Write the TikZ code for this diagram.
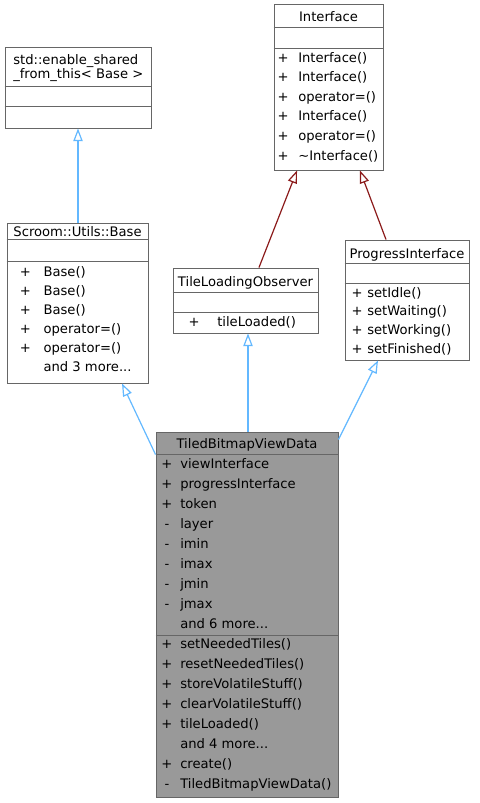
\documentclass[tikz,border=0pt]{standalone}
\usepackage{fontspec}
\setmainfont{DejaVu Sans}
\usepackage{xcolor}
\usetikzlibrary{arrows.meta}

\definecolor{boxgray}{HTML}{666666}
\definecolor{mainfill}{HTML}{999999}
\definecolor{pubedge}{HTML}{63B8FF}
\definecolor{protedge}{HTML}{8B1A1A}

\newcommand{\andmore}[1]{and #1 more.{}.{}.}

\begin{document}
\begin{tikzpicture}[
    x=0.75pt, y=-0.75pt,
    cls/.style={draw=boxgray, fill=white, rectangle, inner sep=0, line width=0.7pt},
    sep/.style={draw=boxgray, line width=0.7pt},
    txt/.style={inner sep=0, font=\fontsize{9.85}{11}\selectfont},
    sym/.style={txt, anchor=base},
    mem/.style={txt, anchor=base west},
    ttl/.style={txt, anchor=base},
    inherit/.style={-{Triangle[open, length=9.5pt, width=7pt]}, line width=0.9pt, draw=pubedge},
    inheritprot/.style={inherit, draw=protedge}
  ]
    \useasboundingbox (0,0) rectangle (479,803);

    % Class boxes
    \node[cls, minimum width=81.75pt, minimum height=124.5pt] (iface) at (328.5,87) {};
    \node[cls, minimum width=109.5pt, minimum height=60.75pt] (shared) at (78,87.5) {};
    \node[cls, minimum width=105.75pt, minimum height=120pt] (base) at (77.5,303) {};
    \node[cls, minimum width=108.75pt, minimum height=48.75pt] (observer) at (245.5,300.5) {};
    \node[cls, minimum width=93pt, minimum height=90pt] (progress) at (407,300) {};
    \node[cls, fill=mainfill, minimum width=136.5pt, minimum height=273.75pt] (tiled) at (247,614.5) {};

    % Compartment lines
    \draw[sep] (iface.west |- 0,27) -- (iface.east |- 0,27);
    \draw[sep] (iface.west |- 0,48) -- (iface.east |- 0,48);
    \draw[sep] (shared.west |- 0,86) -- (shared.east |- 0,86);
    \draw[sep] (shared.west |- 0,106) -- (shared.east |- 0,106);
    \draw[sep] (base.west |- 0,239) -- (base.east |- 0,239);
    \draw[sep] (base.west |- 0,261) -- (base.east |- 0,261);
    \draw[sep] (observer.west |- 0,292) -- (observer.east |- 0,292);
    \draw[sep] (observer.west |- 0,312) -- (observer.east |- 0,312);
    \draw[sep] (progress.west |- 0,263) -- (progress.east |- 0,263);
    \draw[sep] (progress.west |- 0,283) -- (progress.east |- 0,283);
    \draw[sep] (tiled.west |- 0,454) -- (tiled.east |- 0,454);
    \draw[sep] (tiled.west |- 0,635) -- (tiled.east |- 0,635);

    % Titles
    \node[ttl] (iface-t) at (328.5,21.5) {Interface};
    \node[mem] (shared-t1) at (13,64) {std::enable\_shared};
    \node[mem] (shared-t2) at (13,78) {\_from\_this< Base >};
    \node[ttl] (base-t) at (77.5,236) {Scroom::Utils::Base};
    \node[ttl] (observer-t) at (245.5,286) {TileLoadingObserver};
    \node[ttl] (progress-t) at (407,258) {ProgressInterface};
    \node[ttl] (tiled-t) at (247,448) {TiledBitmapViewData};

    % Members
    \foreach \s/\n [count=\i] in {+/Interface(), +/Interface(), +/operator=(), +/Interface(), +/operator=(), +/\textasciitilde Interface()}{
      \node[sym] (iface-s\i) at (283,{62+19.6*(\i-1)}) {\s};
      \node[mem] (iface-m\i) at (298,{62+19.6*(\i-1)}) {\n};
    }
    \foreach \s/\n [count=\i] in {+/Base(), +/Base(), +/Base(), +/operator=(), +/operator=(), /\andmore{3}}{
      \node[sym] (base-s\i) at (25.5,{276+19*(\i-1)}) {\s};
      \node[mem] (base-m\i) at (43.3,{276+19*(\i-1)}) {\n};
    }
    \node[sym] (observer-s1) at (194,326) {+};
    \node[mem] (observer-m1) at (217,326) {tileLoaded()};
    \foreach \s/\n [count=\i] in {+/setIdle(), +/setWaiting(), +/setWorking(), +/setFinished()}{
      \node[sym] (progress-s\i) at (357,{297+18.7*(\i-1)}) {\s};
      \node[mem] (progress-m\i) at (367,{297+18.7*(\i-1)}) {\n};
    }
    \foreach \s/\n [count=\i] in {+/viewInterface, +/progressInterface, +/token, -/layer, -/imin, -/imax, -/jmin, -/jmax, /\andmore{6}}{
      \node[sym] (tiled-a\i) at (167,{468+20*(\i-1)}) {\s};
      \node[mem] (tiled-b\i) at (180,{468+20*(\i-1)}) {\n};
    }
    \foreach \s/\n [count=\i] in {+/setNeededTiles(), +/resetNeededTiles(), +/storeVolatileStuff(), +/clearVolatileStuff(), +/tileLoaded(), /\andmore{4}, +/create(), -/TiledBitmapViewData()}{
      \node[sym] (tiled-s\i) at (167,{648+20*(\i-1)}) {\s};
      \node[mem] (tiled-m\i) at (180,{648+20*(\i-1)}) {\n};
    }

    % Inheritance
    \draw[inherit] (shared.south |- base.north) -- (shared.south);
    \draw[inheritprot] ([xshift=10.1pt]observer.north) -- ([xshift=-23.6pt]iface.south);
    \draw[inheritprot] ([xshift=-15.75pt]progress.north) -- ([xshift=23.6pt]iface.south);
    \draw[inherit] ([yshift=-17.25pt]tiled.north west) -- ([xshift=33.4pt]base.south);
    \draw[inherit] ([xshift=0.75pt]tiled.north) -- ([xshift=0.75pt]tiled.north |- observer.south);
    \draw[inherit] ([yshift=-6pt]tiled.north east) -- ([xshift=-21.75pt]progress.south);
  \end{tikzpicture}
\end{document}
